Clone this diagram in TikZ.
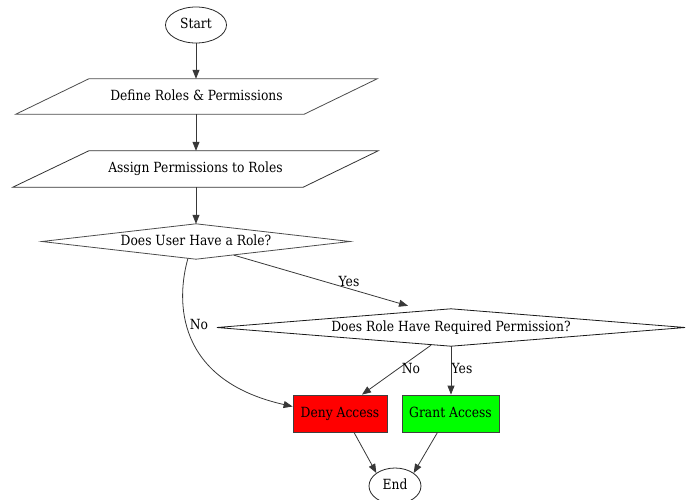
\documentclass[tikz,border=0pt]{standalone}
\usepackage{fontspec}
\setmainfont{DejaVu Serif}[FakeStretch=0.88]
\usetikzlibrary{arrows.meta,calc,shapes.geometric}
\begin{document}
\begin{tikzpicture}[x=1pt,y=-1pt,
  font=\fontsize{14}{16}\selectfont,
  every node/.style={text height=10pt, text depth=3pt},
  edge/.style={draw=black!78, line width=0.8pt, -{Triangle[length=9pt,width=7pt]}},
  lbl/.style={inner sep=1pt},
  term/.style={ellipse, draw=black!85, line width=0.8pt, inner sep=0pt},
  io/.style={inner sep=0pt, minimum height=35pt},
  decision/.style={inner sep=0pt},
  action/.style={draw=black!75, line width=0.8pt, inner sep=0pt, minimum height=37pt}]
\useasboundingbox (0,0) rectangle (694,499);

% terminals
\node[term, minimum width=61pt, minimum height=36pt] (start) at (196,25) {Start};
\node[term, minimum width=52pt, minimum height=36pt] (end) at (395,486) {End};

% input/output steps (parallelograms drawn from the node box)
\node[io, minimum width=361pt] (define) at (196.5,96.5) {Define Roles \& Permissions};
\draw[draw=black!70, line width=0.8pt]
  ($(define.north west)+(73,0)$) -- (define.north east)
  -- ($(define.south east)+(-73,0)$) -- (define.south west) -- cycle;
\node[io, minimum width=365pt, minimum height=36pt] (assign) at (195.5,169) {Assign Permissions to Roles};
\draw[draw=black!80, line width=0.8pt]
  ($(assign.north west)+(76,0)$) -- (assign.north east)
  -- ($(assign.south east)+(-75,0)$) -- (assign.south west) -- cycle;

% decisions
\node[decision, minimum width=308pt, minimum height=35pt] (role) at (196,241.5) {Does User Have a Role?};
\draw[draw=black!70, line width=0.8pt]
  (role.north) -- (role.east) -- (role.south) -- (role.west) -- cycle;
\node[decision, minimum width=468pt, minimum height=37pt] (perm) at (451,327.5) {Does Role Have Required Permission?};
\draw[draw=black!90, line width=0.8pt]
  (perm.north) -- (perm.east) -- (perm.south) -- (perm.west) -- cycle;

% outcomes
\node[action, fill=red, minimum width=94pt] (deny) at (340,413.5) {Deny Access};
\node[action, fill=green, minimum width=97pt] (grant) at (450.5,413.5) {Grant Access};

% connectors
\draw[edge] (start.south -| start.south) -- (start.south |- define.north);
\draw[edge] (start.south |- define.south) -- (start.south |- assign.north);
\draw[edge] (start.south |- assign.south) -- (start.south |- role.north);
\draw[edge] ($(role.south)+(-8,-1)$) .. controls (176,300) and (175,380) .. ($(deny.west)+(0,-7)$);
\node[lbl] at (199,326) {No};
\draw[edge] ($(role.south)+(38,-4)$) -- ($(perm.north)+(-43,-3)$);
\node[lbl] at (349,283) {Yes};
\draw[edge] ($(perm.south)+(-20,-1)$) -- ($(deny.north)+(22,0)$);
\node[lbl] at (411,370) {No};
\draw[edge] (perm.south) -- (grant.north -| perm.south);
\node[lbl] at (462,370) {Yes};
\draw[edge] ($(deny.south)+(14,0)$) -- (end.north west);
\draw[edge] ($(grant.south)+(-13,0)$) -- (end.north east);
\end{tikzpicture}
\end{document}
